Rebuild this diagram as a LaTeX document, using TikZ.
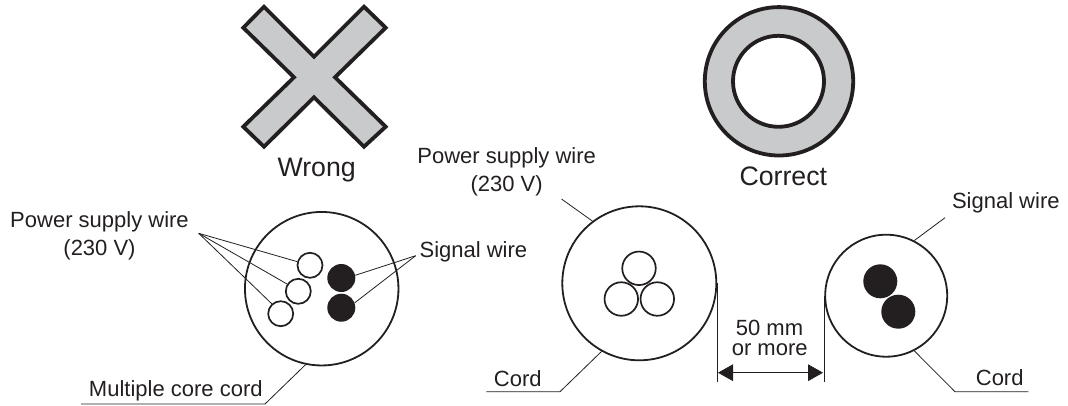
\documentclass[tikz,border=0pt]{standalone}
\usepackage{fontspec}
\setmainfont{Liberation Sans}
\usetikzlibrary{arrows.meta}
\definecolor{ink}{HTML}{231F20}
\definecolor{markgrey}{HTML}{C8CACC}
\tikzset{
  x=1pt,y=-1pt,
  mark outline/.style={draw=ink,fill=markgrey,line width=3.8pt,miter limit=10},
  jacket/.style={circle,draw=ink,line width=1.8pt,fill=none,inner sep=0pt,minimum size=#1},
  core/.style={circle,draw=ink,line width=1.7pt,fill=white,inner sep=0pt,minimum size=#1},
  sigcore/.style={circle,fill=ink,draw=none,inner sep=0pt,minimum size=#1},
  leader/.style={draw=ink,line width=0.8pt},
  lbl/.style={inner sep=0pt,text=ink,font=\fontsize{22}{27.7}\selectfont},
  biglbl/.style={inner sep=0pt,text=ink,font=\fontsize{26.7}{30}\selectfont},
  dim/.style={draw=ink,line width=0.8pt,{Triangle[length=15pt,width=16.7pt]}-{Triangle[length=15pt,width=16.7pt]}}
}
\begin{document}
\begin{tikzpicture}
\useasboundingbox (0,0) rectangle (1068,405);
% Wrong mark
\draw[mark outline] (264,6.7)--(314,56.7)--(364,6.7)--(385.7,27.7)--(335,77.3)--(385.7,126.7)--(364,146.7)--(314,97.3)--(264,146.7)--(243.3,126.7)--(294,77.3)--(243.3,27.7)--cycle;
\node[biglbl] (wrong) at (316.7,170) {Wrong};
% Correct mark
\node[circle,draw=ink,fill=markgrey,line width=3.8pt,inner sep=0pt,minimum size=148.4pt] (ringout) at (779,81.3) {};
\node[circle,draw=ink,fill=white,line width=3.8pt,inner sep=0pt,minimum size=91pt] (ringin) at (778.5,81.3) {};
\node[biglbl] (correct) at (783.3,176.7) {Correct};
% Left cord
\node[jacket=153.5pt] (cordA) at (321.7,288.7) {};
\node[core=25pt] (a1) at (310,265.3) {};
\node[core=25pt] (a2) at (298.3,291.3) {};
\node[core=25pt] (a3) at (280.7,313.7) {};
\node[sigcore=28pt] (s1) at (341.3,278) {};
\node[sigcore=28pt] (s2) at (341.3,307.7) {};
\coordinate (pw) at (198.7,233.3);
\coordinate (sg) at (415.7,255.7);
\draw[leader] (pw)--(a1.164);
\draw[leader] (pw)--(a2.147.6);
\draw[leader] (pw)--(a3.132);
\draw[leader] (sg)--(s1.11);
\draw[leader] (sg)--(s2.20);
\node[lbl,align=center] (pwl) at (99.5,235.5) {Power supply wire\\(230 V)};
\node[lbl] (sgl) at (473.4,252.3) {Signal wire};
\coordinate (mc0) at (81,404);
\coordinate (mc1) at (265,404);
\draw[leader] (mc0)--(mc1)--(cordA.-102.5);
\node[lbl] (mcl) at (175.8,390.7) {Multiple core cord};
% Middle cord
\node[jacket=154pt] (cordB) at (639.3,283.3) {};
\node[core=33.5pt] (b1) at (639,268.3) {};
\node[core=33.5pt] (b2) at (621.3,299) {};
\node[core=33.5pt] (b3) at (657.3,299) {};
\coordinate (pb) at (561.5,199);
\draw[leader] (pb)--(cordB.127.4);
\node[lbl,align=center] (pbl) at (506.7,172) {Power supply wire\\(230 V)};
\coordinate (cl0) at (486.4,391.7);
\coordinate (cl1) at (560,391.7);
\draw[leader] (cl0)--(cl1)--(cordB.-119.3);
\node[lbl] (cll) at (517.8,378.3) {Cord};
% Right cord
\node[jacket=122pt] (cordC) at (886.2,295.7) {};
\node[sigcore=34pt] (c1) at (880.3,281.3) {};
\node[sigcore=34pt] (c2) at (898.3,311.7) {};
\coordinate (sc) at (945,217.7);
\draw[leader] (sc)--(cordC.63.5);
\node[lbl] (scl) at (1005.8,202.7) {Signal wire};
\coordinate (cr0) at (1028.3,391.7);
\coordinate (cr1) at (955,391.7);
\draw[leader] (cr0)--(cr1)--(cordC.-63.5);
\node[lbl] (crl) at (999.7,377.3) {Cord};
% Dimension
\coordinate (dy) at (770,381.7);
\draw[leader] (cordB.east)--(cordB.east |- dy);
\draw[leader] (cordC.west)--(cordC.west |- dy);
\coordinate (da) at (718,372.7);
\coordinate (db) at (823,372.7);
\draw[dim] (da)--(db);
\node[lbl] (dm1) at (769.5,328.3) {50 mm};
\node[lbl] (dm2) at (769.7,350) {or more};
\end{tikzpicture}
\end{document}
